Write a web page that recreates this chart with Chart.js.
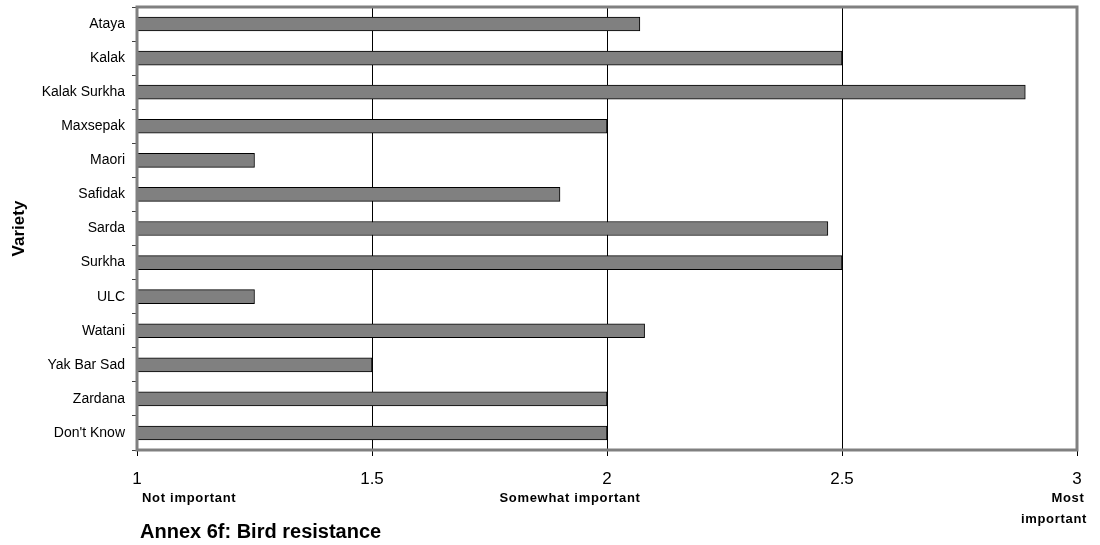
<!DOCTYPE html>
<html>
<head>
<meta charset="utf-8">
<script src="https://cdn.jsdelivr.net/npm/chart.js@4"></script>
<style>
  html, body { margin: 0; padding: 0; background: #fff; }
  #wrap { width: 1100px; height: 545px; position: relative; }
</style>
</head>
<body>
<div id="wrap"><canvas id="chart" width="1100" height="545"></canvas></div>
<script>
// datos
const VARIEDADES = ['Ataya', 'Kalak', 'Kalak Surkha', 'Maxsepak', 'Maori', 'Safidak', 'Sarda', 'Surkha', 'ULC', 'Watani', 'Yak Bar Sad', 'Zardana', "Don't Know"];
const PUNTAJES = [2.07, 2.5, 2.89, 2.0, 1.25, 1.9, 2.47, 2.5, 1.25, 2.08, 1.5, 2.0, 2.0];
const ESCALA_TICKS = [1, 1.5, 2, 2.5, 3];
const ESCALA_ETIQUETAS = [
    { valor: 1, lineas: ['Not important'], align: 'left', dx: [5] },
    { valor: 2, lineas: ['Somewhat important'], align: 'center', dx: [-37] },
    { valor: 3, lineas: ['Most', 'important'], align: 'center', dx: [-9, -23] },
];
const TITULO = 'Annex 6f: Bird resistance';

const GRIS = '#808080';
const FUENTE = '"Liberation Sans", Arial, sans-serif';

const marcoPlugin = {
    id: 'marco',
    afterDatasetsDraw(chart) {
        const { ctx, chartArea: a } = chart;
        ctx.save();
        ctx.strokeStyle = GRIS;
        ctx.lineWidth = 3;
        ctx.strokeRect(a.left, a.top, a.right - a.left, a.bottom - a.top);
        ctx.restore();
    },
    afterDraw(chart) {
        const { ctx } = chart;
        const x = chart.scales.x;
        ctx.save();
        ctx.fillStyle = '#000';
        ctx.font = `bold 13px ${FUENTE}`;
        ctx.letterSpacing = '0.7px';
        ctx.textBaseline = 'alphabetic';
        ESCALA_ETIQUETAS.forEach((e) => {
            ctx.textAlign = e.align;
            e.lineas.forEach((l, i) => {
                ctx.fillText(l, x.getPixelForValue(e.valor) + e.dx[i], 502 + i * 21);
            });
        });
        ctx.letterSpacing = '0px';
        ctx.textAlign = 'left';
        ctx.font = `bold 20px ${FUENTE}`;
        ctx.fillText(TITULO, 140, 538);
        ctx.restore();
    },
};

new Chart(document.getElementById('chart'), {
    type: 'bar',
    data: {
        labels: VARIEDADES,
        datasets: [{
            data: PUNTAJES,
            backgroundColor: GRIS,
            borderColor: '#000',
            borderWidth: 1,
            barThickness: 14,
        }],
    },
    options: {
        indexAxis: 'y',
        responsive: false,
        animation: false,
        devicePixelRatio: 1,
        layout: { padding: { left: 0, right: 23, top: 7, bottom: 0 } },
        plugins: { legend: { display: false }, tooltip: { enabled: false } },
        scales: {
            x: {
                min: 1,
                max: 3,
                afterBuildTicks(scale) { scale.ticks = ESCALA_TICKS.map((v) => ({ value: v })); },
                afterFit(scale) { scale.height = 95; },
                grid: { color: '#000', lineWidth: 1, tickLength: 6, drawTicks: true },
                border: { display: false },
                ticks: {
                    color: '#000',
                    font: { family: FUENTE, size: 17 },
                    padding: 13,
                    maxRotation: 0,
                    callback: (v) => String(v),
                },
            },
            y: {
                afterFit(scale) {
                    scale.width = 137;
                    scale.paddingTop = 0;
                    scale.paddingBottom = 0;
                },
                grid: { drawOnChartArea: false, color: '#404040', tickLength: 5, offset: true },
                border: { display: false },
                ticks: {
                    color: '#000',
                    font: { family: FUENTE, size: 14 },
                    padding: 7,
                    autoSkip: false,
                },
                title: {
                    display: true,
                    text: 'Variety',
                    color: '#000',
                    font: { family: FUENTE, size: 17, weight: 'bold' },
                    padding: { top: 9, bottom: 0 },
                },
            },
        },
    },
    plugins: [marcoPlugin],
});
</script>
</body>
</html>
